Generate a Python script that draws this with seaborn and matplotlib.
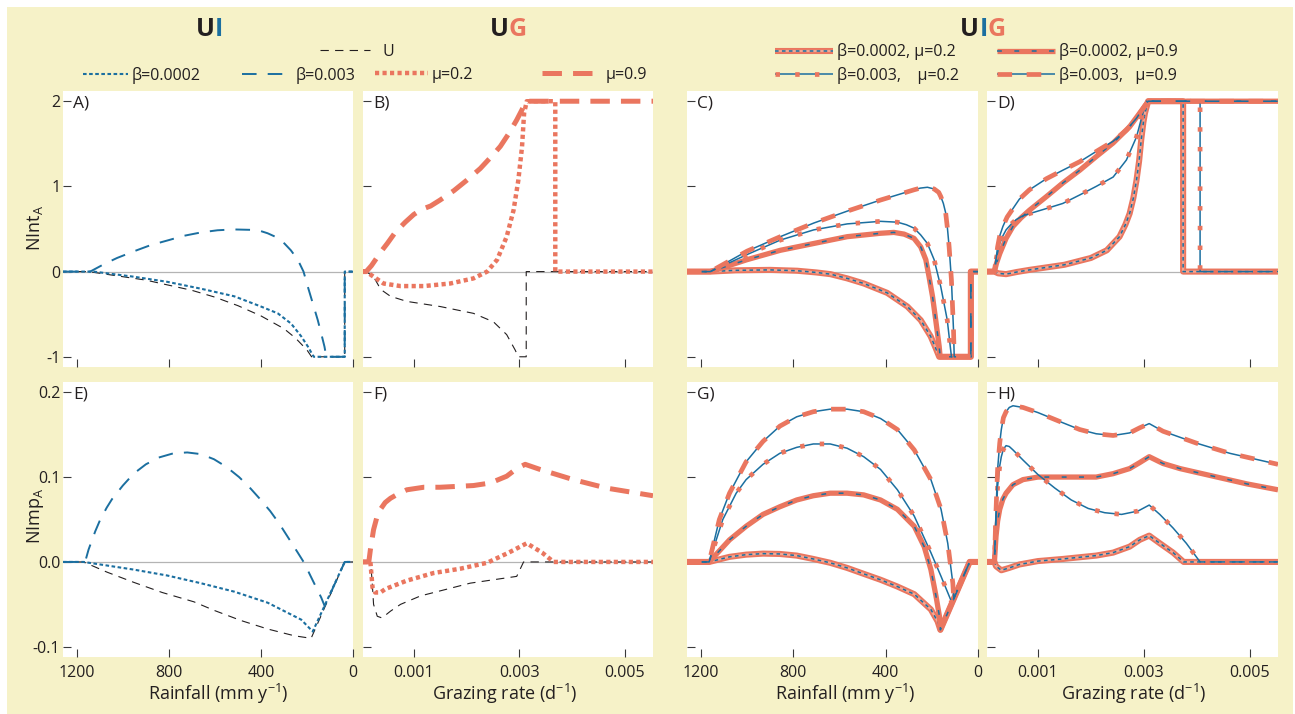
import matplotlib
matplotlib.use("Agg")
import matplotlib.pyplot as plt
import seaborn as sns
from matplotlib.lines import Line2D
from matplotlib.legend_handler import HandlerTuple
from matplotlib.offsetbox import TextArea, HPacker, AnnotationBbox
from matplotlib.patches import Rectangle

# ---------------- data ----------------
# Panel A: NInt_A vs rainfall
a_u_x = [1260, 1150, 1000, 900, 800, 700, 600, 500, 400, 300, 250, 200, 180, 36, 36, 0]
a_u_y = [0, 0, -0.06, -0.1, -0.16, -0.22, -0.3, -0.4, -0.52, -0.67, -0.78, -0.92, -1.0, -1.0, 0, 0]
a_b1_x = [1260, 1127, 953, 807, 662, 516, 400, 327, 269, 225, 196, 175, 170, 36, 36, 0]
a_b1_y = [0, 0, -0.06, -0.12, -0.2, -0.29, -0.41, -0.49, -0.61, -0.76, -0.88, -0.98, -1.0, -1.0, 0, 0]
a_b2_x = [1260, 1142, 1080, 1025, 950, 880, 800, 735, 660, 589, 520, 444, 400, 371, 330, 298, 270,
          240, 215, 196, 175, 153, 135, 124, 116, 36, 36, 0]
a_b2_y = [0, 0, 0.09, 0.16, 0.24, 0.31, 0.37, 0.42, 0.46, 0.485, 0.495, 0.49, 0.475, 0.45, 0.4, 0.33,
          0.25, 0.14, 0.0, -0.18, -0.37, -0.57, -0.76, -0.88, -1.0, -1.0, 0, 0]

# Panel B: NInt_A vs grazing rate
b_u_x = [0.00004, 0.0001, 0.00024, 0.00034, 0.0004, 0.00056, 0.00087, 0.0015, 0.00213, 0.00251,
         0.00276, 0.00292, 0.00298, 0.00313, 0.00313, 0.00553]
b_u_y = [0, 0, -0.06, -0.17, -0.22, -0.29, -0.35, -0.41, -0.49, -0.59, -0.74, -0.92, -1.0, -1.0, 0, 0]
b_m1_x = [0.00004, 0.0001, 0.00024, 0.00043, 0.00075, 0.00119, 0.00169, 0.00213, 0.00239, 0.00258,
          0.00276, 0.00289, 0.00298, 0.00305, 0.00309, 0.00314, 0.00368, 0.00368, 0.00553]
b_m1_y = [0, 0, -0.06, -0.14, -0.17, -0.17, -0.14, -0.08, 0, 0.14, 0.41, 0.72, 1.07, 1.46, 1.86, 2.0, 2.0, 0, 0]
b_m2_x = [0.00004, 0.0001, 0.0002, 0.0003, 0.0004, 0.0005, 0.00065, 0.00084, 0.001, 0.00115, 0.00132,
          0.0015, 0.00176, 0.002, 0.00226, 0.0025, 0.00264, 0.0028, 0.00295, 0.00305, 0.00312, 0.00553]
b_m2_y = [0, 0, 0.07, 0.16, 0.25, 0.33, 0.46, 0.58, 0.67, 0.73, 0.77, 0.84, 0.95, 1.07, 1.21, 1.37,
          1.47, 1.62, 1.78, 1.9, 2.0, 2.0]

# Panel C: NInt_A vs rainfall (combined)
c1_x = [1260, 1159, 1050, 900, 783, 700, 639, 566, 494, 393, 306, 248, 205, 183, 168, 31, 31, 0]
c1_y = [0, 0, 0.015, 0.02, 0.01, -0.01, -0.03, -0.08, -0.14, -0.25, -0.41, -0.57, -0.76, -0.9, -1.0, -1.0, 0, 0]
c2_x = [1260, 1159, 1000, 856, 711, 566, 422, 364, 320, 277, 248, 226, 212, 197, 183, 168, 164, 31, 31, 0]
c2_y = [0, 0, 0.14, 0.25, 0.33, 0.41, 0.45, 0.46, 0.44, 0.39, 0.29, 0.14, -0.06, -0.29, -0.57, -0.88, -1.0, -1.0, 0, 0]
c3_x = [1260, 1159, 1000, 856, 711, 566, 422, 349, 310, 277, 248, 219, 190, 161, 133, 115, 31, 31, 0]
c3_y = [0, 0, 0.2, 0.37, 0.49, 0.56, 0.59, 0.58, 0.55, 0.51, 0.43, 0.33, 0.14, -0.18, -0.57, -1.0, -1.0, 0, 0]
c4_x = [1260, 1159, 1000, 856, 711, 566, 422, 277, 250, 219, 190, 170, 161, 150, 140, 132, 125, 115,
        106, 103, 31, 31, 0]
c4_y = [0, 0, 0.24, 0.41, 0.57, 0.71, 0.84, 0.96, 0.98, 0.99, 0.97, 0.93, 0.88, 0.8, 0.69, 0.5, 0.29,
        -0.1, -0.69, -1.0, -1.0, 0, 0]

# Panel D: NInt_A vs grazing rate (combined)
d1_x = [0.00004, 0.00018, 0.00025, 0.0004, 0.0006, 0.00084, 0.0015, 0.002, 0.0023, 0.00254, 0.00265,
        0.00273, 0.0028, 0.00286, 0.00291, 0.00295, 0.00299, 0.00302, 0.00308, 0.00374, 0.00374, 0.00553]
d1_y = [0, 0, -0.02, -0.03, -0.005, 0.02, 0.08, 0.16, 0.25, 0.41, 0.55, 0.68, 0.86, 1.07, 1.3, 1.55,
        1.75, 1.86, 2.0, 2.0, 0, 0]
d2_x = [0.00004, 0.00018, 0.00022, 0.00028, 0.0004, 0.00053, 0.00068, 0.00084, 0.00116, 0.00147,
        0.00179, 0.0021, 0.00242, 0.00273, 0.00292, 0.00305, 0.00308, 0.00553]
d2_y = [0, 0, 0.1, 0.21, 0.39, 0.53, 0.63, 0.72, 0.88, 1.04, 1.19, 1.35, 1.51, 1.7, 1.86, 1.97, 2.0, 2.0]
d3_x = [0.00004, 0.00018, 0.00022, 0.00028, 0.00034, 0.0004, 0.0005, 0.00059, 0.0007, 0.00084,
        0.00116, 0.00147, 0.00179, 0.0021, 0.00242, 0.00267, 0.00286, 0.00298, 0.00305, 0.00406,
        0.00406, 0.00553]
d3_y = [0, 0, 0.17, 0.33, 0.42, 0.49, 0.56, 0.61, 0.65, 0.68, 0.74, 0.8, 0.9, 1.0, 1.11, 1.31, 1.58,
        1.86, 2.0, 2.0, 0, 0]
d4_x = [0.00004, 0.00018, 0.00024, 0.00028, 0.00034, 0.00042, 0.00053, 0.00065, 0.00084, 0.00116,
        0.00147, 0.00179, 0.0021, 0.00242, 0.00267, 0.00286, 0.00302, 0.00308, 0.00553]
d4_y = [0, 0, 0.29, 0.42, 0.53, 0.64, 0.74, 0.85, 0.96, 1.09, 1.19, 1.29, 1.41, 1.53, 1.66, 1.8, 1.95,
        2.0, 2.0]

# Panel E: NImp_A vs rainfall
e_u_x = [1260, 1171, 1069, 953, 829, 691, 604, 487, 371, 255, 182, 36, 0]
e_u_y = [0, 0, -0.012, -0.024, -0.036, -0.047, -0.057, -0.069, -0.079, -0.087, -0.09, 0, 0]
e_b1_x = [1260, 1171, 1098, 953, 807, 662, 516, 371, 225, 175, 36, 0]
e_b1_y = [0, 0, -0.003, -0.009, -0.016, -0.025, -0.035, -0.048, -0.068, -0.082, 0, 0]
e_b2_x = [1260, 1164, 1149, 1120, 1098, 1070, 1047, 1000, 953, 900, 844, 780, 720, 660, 604, 550,
          495, 450, 407, 360, 320, 280, 240, 210, 189, 160, 138, 123, 36, 0]
e_b2_y = [0, 0, 0.0145, 0.036, 0.05, 0.064, 0.074, 0.09, 0.104, 0.115, 0.123, 0.128, 0.129, 0.127,
          0.121, 0.112, 0.1, 0.088, 0.075, 0.06, 0.045, 0.028, 0.011, -0.002, -0.014, -0.03, -0.042,
          -0.052, 0, 0]

# Panel F: NImp_A vs grazing rate
f_u_x = [0.00004, 0.00018, 0.00021, 0.00024, 0.00031, 0.0004, 0.00056, 0.00075, 0.00113, 0.00157,
         0.00207, 0.00251, 0.00295, 0.00308, 0.00553]
f_u_y = [0, 0, -0.02, -0.05, -0.064, -0.066, -0.058, -0.05, -0.04, -0.033, -0.025, -0.021, -0.017, 0, 0]
f_m1_x = [0.00004, 0.00018, 0.00022, 0.00027, 0.00037, 0.00046, 0.00087, 0.00138, 0.00188, 0.00239,
          0.0028, 0.00314, 0.00343, 0.00365, 0.00553]
f_m1_y = [0, 0, -0.03, -0.036, -0.036, -0.032, -0.022, -0.013, -0.008, -0.001, 0.011, 0.022, 0.011, 0, 0]
f_m2_x = [0.00004, 0.00015, 0.00018, 0.00024, 0.0003, 0.00037, 0.00046, 0.00056, 0.0007, 0.00087,
          0.00119, 0.0015, 0.00213, 0.00245, 0.00276, 0.00295, 0.00311, 0.00339, 0.00402, 0.00465, 0.00553]
f_m2_y = [0, 0, 0.0145, 0.038, 0.052, 0.062, 0.07, 0.075, 0.08, 0.085, 0.088, 0.088, 0.09, 0.093,
          0.101, 0.11, 0.115, 0.109, 0.097, 0.087, 0.078]

# Panel G: NImp_A vs rainfall (combined)
g1_x = [1260, 1164, 1076, 1004, 931, 858, 785, 713, 640, 567, 495, 422, 349, 276, 204, 175, 163, 36, 0]
g1_y = [0, 0, 0.006, 0.0086, 0.0098, 0.0094, 0.0075, 0.0035, -0.001, -0.007, -0.014, -0.021, -0.029,
        -0.038, -0.056, -0.07, -0.08, 0, 0]
g2_x = [1260, 1164, 1076, 1004, 931, 858, 785, 713, 640, 567, 495, 422, 349, 276, 233, 204, 182, 167, 163, 36, 0]
g2_y = [0, 0, 0.026, 0.042, 0.056, 0.065, 0.073, 0.078, 0.081, 0.081, 0.079, 0.073, 0.062, 0.042,
        0.018, -0.009, -0.04, -0.064, -0.08, 0, 0]
g3_x = [1260, 1164, 1105, 1047, 1004, 931, 858, 785, 713, 640, 567, 495, 422, 349, 276, 204, 160, 113, 36, 0]
g3_y = [0, 0, 0.05, 0.081, 0.097, 0.115, 0.128, 0.135, 0.139, 0.139, 0.134, 0.124, 0.109, 0.085,
        0.054, 0.011, -0.017, -0.048, 0, 0]
g4_x = [1260, 1164, 1120, 1076, 1004, 931, 858, 785, 713, 640, 567, 495, 422, 349, 276, 204, 160,
        131, 109, 105, 36, 0]
g4_y = [0, 0, 0.05, 0.081, 0.118, 0.142, 0.16, 0.171, 0.177, 0.18, 0.18, 0.177, 0.169, 0.156, 0.132,
        0.097, 0.062, 0.022, -0.025, -0.043, 0, 0]

# Panel H: NImp_A vs grazing rate (combined)
h1_x = [0.00004, 0.00018, 0.00021, 0.00031, 0.00046, 0.00065, 0.001, 0.00147, 0.0021, 0.00242,
        0.00273, 0.00292, 0.0031, 0.0033, 0.00355, 0.00375, 0.00553]
h1_y = [0, 0, -0.005, -0.0098, -0.007, -0.003, 0.001, 0.0035, 0.0075, 0.011, 0.018, 0.026, 0.031,
        0.022, 0.011, 0, 0]
h2_x = [0.00004, 0.00018, 0.00021, 0.00024, 0.00028, 0.00034, 0.0004, 0.00053, 0.00072, 0.001,
        0.00147, 0.0021, 0.00242, 0.00273, 0.00292, 0.0031, 0.00336, 0.00368, 0.00431, 0.00494, 0.00553]
h2_y = [0, 0, 0.03, 0.048, 0.062, 0.074, 0.081, 0.091, 0.097, 0.1, 0.1, 0.1, 0.104, 0.11, 0.117,
        0.124, 0.116, 0.11, 0.101, 0.092, 0.085]
h3_x = [0.00004, 0.00018, 0.00021, 0.00024, 0.00028, 0.00031, 0.00035, 0.0004, 0.00046, 0.00053,
        0.00072, 0.001, 0.00132, 0.00163, 0.00195, 0.00226, 0.00258, 0.00289, 0.0031, 0.0033, 0.00355,
        0.0038, 0.00406, 0.00553]
h3_y = [0, 0, 0.05, 0.089, 0.113, 0.124, 0.133, 0.137, 0.136, 0.132, 0.12, 0.103, 0.087, 0.073,
        0.063, 0.058, 0.056, 0.06, 0.067, 0.056, 0.04, 0.022, 0, 0]
h4_x = [0.00004, 0.00018, 0.00021, 0.00024, 0.00028, 0.00031, 0.00035, 0.0004, 0.00046, 0.00053,
        0.00072, 0.001, 0.00147, 0.00179, 0.0021, 0.00242, 0.00273, 0.00292, 0.0031, 0.00336, 0.00399,
        0.00462, 0.00553]
h4_y = [0, 0, 0.06, 0.109, 0.14, 0.156, 0.17, 0.177, 0.182, 0.184, 0.182, 0.176, 0.164, 0.156,
        0.151, 0.149, 0.152, 0.158, 0.163, 0.154, 0.14, 0.128, 0.115]

rain_ticks = [1200, 800, 400, 0]
rain_labels = ["1200", "800", "400", "0"]
graze_ticks = [0.001, 0.003, 0.005]
graze_labels = ["0.001", "0.003", "0.005"]
nint_ticks = [-1, 0, 1, 2]
nint_labels = ["-1", "0", "1", "2"]
nimp_ticks = [-0.1, 0.0, 0.1, 0.2]
nimp_labels = ["-0.1", "0.0", "0.1", "0.2"]
panel_letters = ["A)", "B)", "C)", "D)", "E)", "F)", "G)", "H)"]

# ---------------- style ----------------
sns.set_style("white")
plt.rcParams['font.family'] = ['Open Sans', 'DejaVu Sans']
plt.rcParams['axes.unicode_minus'] = False
plt.rcParams['lines.scale_dashes'] = False
plt.rcParams['mathtext.fontset'] = 'custom'
plt.rcParams['mathtext.rm'] = 'Open Sans'
plt.rcParams['mathtext.it'] = 'Open Sans:italic'
plt.rcParams['mathtext.bf'] = 'Open Sans:bold'

BLUE = "#1B6FA0"
SALMON = "#EA765F"
PINK = "#F3A894"
BLACK = "#231F20"
GRAY = "#B4B4B4"
CREAM = "#F6F2C8"

STY = {
    "U":  [(BLACK, 0.8, (6, 4.5))],
    "B1": [(BLUE, 1.5, (2.6, 1.8))],
    "B2": [(BLUE, 1.4, (10.5, 8))],
    "M1": [(SALMON, 3.2, (3.0, 2.4))],
    "M2": [(SALMON, 3.6, (14, 8))],
    "T1": [(SALMON, 4.4, None), (PINK, 1.6, None), (BLUE, 1.1, (2.6, 2.4))],
    "T2": [(SALMON, 3.8, None), (BLUE, 1.1, (3.5, 9))],
    "T3": [(BLUE, 1.1, None), (SALMON, 3.4, (3.2, 11))],
    "T4": [(BLUE, 1.1, None), (SALMON, 3.4, (10.5, 10.5))],
}

W, H = 1295, 714
fig = plt.figure(figsize=(W / 100, H / 100), dpi=100)
fig.patch.set_facecolor("white")
fig.add_artist(Rectangle((7 / W, 0), (1293 - 7) / W, (714 - 7) / H, transform=fig.transFigure,
                         facecolor=CREAM, edgecolor="none", zorder=-10))


def add_ax(x0, y0, x1, y1):
    return fig.add_axes([x0 / W, 1 - y1 / H, (x1 - x0) / W, (y1 - y0) / H])


axA = add_ax(63, 91, 353, 367)
axB = add_ax(363, 91, 653, 367)
axC = add_ax(687, 91, 978, 367)
axD = add_ax(987, 91, 1278, 367)
axE = add_ax(63, 382, 353, 657)
axF = add_ax(363, 382, 653, 657)
axG = add_ax(687, 382, 978, 657)
axH = add_ax(987, 382, 1278, 657)
axes = [axA, axB, axC, axD, axE, axF, axG, axH]


def draw(ax, x, y, key):
    for color, lw, dashes in STY[key]:
        sns.lineplot(x=x, y=y, ax=ax, estimator=None, sort=False, color=color, linewidth=lw)
        ln = ax.lines[-1]
        if dashes is not None:
            ln.set_linestyle((0, dashes))
        ln.set_dash_capstyle("butt")
        ln.set_solid_capstyle("butt")
        ln.set_solid_joinstyle("round")
        ln.set_dash_joinstyle("round")


draw(axA, a_u_x, a_u_y, "U")
draw(axA, a_b1_x, a_b1_y, "B1")
draw(axA, a_b2_x, a_b2_y, "B2")

draw(axB, b_u_x, b_u_y, "U")
draw(axB, b_m1_x, b_m1_y, "M1")
draw(axB, b_m2_x, b_m2_y, "M2")

draw(axC, c1_x, c1_y, "T1")
draw(axC, c2_x, c2_y, "T2")
draw(axC, c3_x, c3_y, "T3")
draw(axC, c4_x, c4_y, "T4")

draw(axD, d1_x, d1_y, "T1")
draw(axD, d2_x, d2_y, "T2")
draw(axD, d3_x, d3_y, "T3")
draw(axD, d4_x, d4_y, "T4")

draw(axE, e_u_x, e_u_y, "U")
draw(axE, e_b1_x, e_b1_y, "B1")
draw(axE, e_b2_x, e_b2_y, "B2")

draw(axF, f_u_x, f_u_y, "U")
draw(axF, f_m1_x, f_m1_y, "M1")
draw(axF, f_m2_x, f_m2_y, "M2")

draw(axG, g1_x, g1_y, "T1")
draw(axG, g2_x, g2_y, "T2")
draw(axG, g3_x, g3_y, "T3")
draw(axG, g4_x, g4_y, "T4")

draw(axH, h1_x, h1_y, "T1")
draw(axH, h2_x, h2_y, "T2")
draw(axH, h3_x, h3_y, "T3")
draw(axH, h4_x, h4_y, "T4")

TS = 11.5
for i, ax in enumerate(axes):
    ax.set_facecolor("white")
    for s in ax.spines.values():
        s.set_visible(False)
    ax.axhline(0, color=GRAY, lw=0.9, zorder=1)
    ax.set_xlabel("")
    ax.set_ylabel("")
    top = i < 4
    rain = i in (0, 2, 4, 6)
    if rain:
        ax.set_xlim(1260, 0)
        ax.set_xticks(rain_ticks)
        ax.set_xticklabels(rain_labels)
    else:
        ax.set_xlim(0.00004, 0.00553)
        ax.set_xticks(graze_ticks)
        ax.set_xticklabels(graze_labels)
    if top:
        ax.set_ylim(-1.12, 2.12)
        ax.set_yticks(nint_ticks)
        ax.set_yticklabels(nint_labels)
    else:
        ax.set_ylim(-0.112, 0.212)
        ax.set_yticks(nimp_ticks)
        ax.set_yticklabels(nimp_labels)
    ax.tick_params(axis="both", direction="in", length=6, width=0.8, color="#3a3a3a",
                   labelsize=TS, labelcolor=BLACK, left=True, bottom=True, top=False, right=False)
    ax.tick_params(axis="y", pad=2)
    ax.tick_params(axis="x", pad=6)
    ax.tick_params(labelbottom=not top, labelleft=(i in (0, 4)))
    ax.text(0.034, 0.985, panel_letters[i], transform=ax.transAxes, ha="left", va="top",
            fontsize=12.5, color=BLACK)

# axis labels
fig.text(35 / W, 1 - 228 / H, r"NInt$_{\mathregular{A}}$", rotation=90, ha="center", va="center",
         fontsize=13, color=BLACK)
fig.text(35 / W, 1 - 516 / H, r"NImp$_{\mathregular{A}}$", rotation=90, ha="center", va="center",
         fontsize=13, color=BLACK)
xl_rain = r"Rainfall (mm y$^{\mathregular{-1}}$)"
xl_graze = r"Grazing rate (d$^{\mathregular{-1}}$)"
for cx, txt in [(218, xl_rain), (505, xl_graze), (845, xl_rain), (1134, xl_graze)]:
    fig.text(cx / W, 1 - 694 / H, txt, ha="center", va="center", fontsize=13, color=BLACK)


# titles with two/three colours
def title(cx, cy, parts):
    box = HPacker(children=[TextArea(t, textprops=dict(color=c, fontsize=18, fontweight="bold"))
                            for t, c in parts], align="baseline", pad=0, sep=0)
    ab = AnnotationBbox(box, (cx / W, 1 - cy / H), xycoords="figure fraction", frameon=False,
                        box_alignment=(0.5, 0.5), annotation_clip=False)
    fig.add_artist(ab)


title(209, 30, [("U", BLACK), ("I", BLUE)])
title(508, 30, [("U", BLACK), ("G", SALMON)])
title(983, 30, [("U", BLACK), ("I", BLUE), ("G", SALMON)])


# legend keys
def handle(key):
    hs = []
    for color, lw, dashes in STY[key]:
        h = Line2D([], [], color=color, lw=lw, linestyle=(0, dashes) if dashes else "-",
                   dash_capstyle="butt", solid_capstyle="butt")
        hs.append(h)
    return tuple(hs) if len(hs) > 1 else hs[0]


def key(x, y, k, label, hl_px, gap_px):
    fs_px = TS * 100 / 72
    fig.legend(handles=[handle(k)], labels=[label], loc="center left",
               bbox_to_anchor=(x / W, 1 - y / H), frameon=False, borderpad=0, borderaxespad=0,
               handlelength=hl_px / fs_px, handletextpad=gap_px / fs_px, fontsize=TS,
               labelcolor=BLACK, handler_map={tuple: HandlerTuple(ndivide=1, pad=0)})


key(320, 52, "U", "U", 50, 12)
key(83, 75, "B1", "β=0.0002", 45, 4)
key(242, 75, "B2", "β=0.003", 46, 8)
key(375, 75, "M1", "μ=0.2", 53, 4)
key(542, 75, "M2", "μ=0.9", 56, 8)
key(775, 52, "T1", "β=0.0002, μ=0.2", 58, 4)
key(997, 52, "T2", "β=0.0002, μ=0.9", 58, 4)
key(775, 75, "T3", "β=0.003,    μ=0.2", 58, 4)
key(997, 75, "T4", "β=0.003,   μ=0.9", 58, 4)

fig.savefig("out.png", dpi=100, facecolor=fig.get_facecolor())
